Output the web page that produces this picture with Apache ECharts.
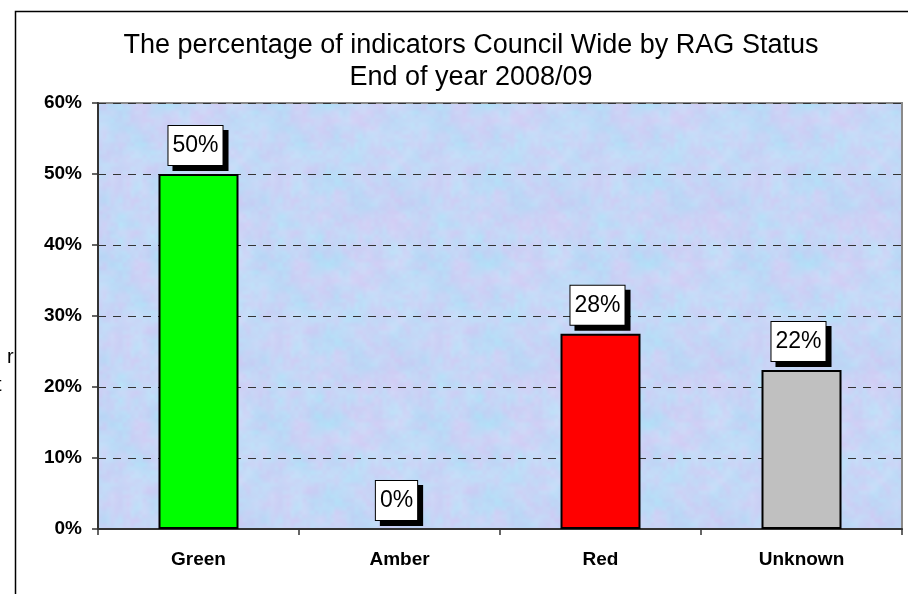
<!DOCTYPE html>
<html><head><meta charset="utf-8">
<script src="https://cdn.jsdelivr.net/npm/echarts@6/dist/echarts.min.js"></script>
<style>html,body{margin:0;padding:0;background:#fff}#c{width:908px;height:594px}</style>
</head><body><div id="c"></div>
<script>
const titleLines = ['The percentage of indicators Council Wide by RAG Status', 'End of year 2008/09'];
const categories = ['Green', 'Amber', 'Red', 'Unknown'];
const values = [50, 0, 27.5, 22.4];
const valueLabels = ['50%', '0%', '28%', '22%'];
const barColors = ['#00ff00', '#ffa500', '#ff0000', '#c0c0c0'];
const yTicks = [0, 10, 20, 30, 40, 50, 60];

// decorative paper-like texture for the plot background (deterministic hash, style only)
function makeTexture() {
  const S = 160, cv = document.createElement('canvas');
  cv.width = S; cv.height = S;
  const ctx = cv.getContext('2d');
  const hash = (x, y) => { const s = Math.sin(x * 12.9898 + y * 78.233) * 43758.5453; return s - Math.floor(s); };
  const smooth = (x, y, c) => {
    const gx = x / c, gy = y / c, x0 = Math.floor(gx), y0 = Math.floor(gy);
    const fx = gx - x0, fy = gy - y0, n = S / c;
    const h = (a, b) => hash(((a % n) + n) % n + c * 7, ((b % n) + n) % n + c * 3);
    const a = h(x0, y0), b = h(x0 + 1, y0), d = h(x0, y0 + 1), e = h(x0 + 1, y0 + 1);
    const ux = fx * fx * (3 - 2 * fx), uy = fy * fy * (3 - 2 * fy);
    return (a * (1 - ux) + b * ux) * (1 - uy) + (d * (1 - ux) + e * ux) * uy;
  };
  const img = ctx.createImageData(S, S);
  for (let y = 0; y < S; y++) for (let x = 0; x < S; x++) {
    const p = smooth(x, y, 20) * 0.6 + smooth(x, y, 8) * 0.4;
    const q = smooth(x + 40, y + 70, 16) * 0.6 + smooth(x, y, 4) * 0.4;
    const k = (y * S + x) * 4;
    img.data[k] = 182 + 36 * p - 12 * q;
    img.data[k + 1] = 208 + 24 * q - 10 * p;
    img.data[k + 2] = 243 + 6 * q;
    img.data[k + 3] = 255;
  }
  ctx.putImageData(img, 0, 0);
  return cv;
}

const chart = echarts.init(document.getElementById('c'), null, {renderer: 'canvas'});
const FONT = 'Liberation Sans, Arial, sans-serif';
chart.setOption({
  backgroundColor: '#fff',
  animation: false,
  title: {
    text: titleLines.join('\n'),
    left: 466, top: 25, textAlign: 'center',
    textStyle: {fontFamily: FONT, fontSize: 27, fontWeight: 'normal', color: '#000', lineHeight: 32}
  },
  grid: {left: 98, right: 6, top: 103, bottom: 65, show: true,
    backgroundColor: {image: makeTexture(), repeat: 'repeat'}, borderColor: '#8a8a8a', borderWidth: 2},
  xAxis: {
    type: 'category', data: categories,
    axisLine: {lineStyle: {color: '#333', width: 2}},
    axisTick: {show: true, length: 6, lineStyle: {color: '#333', width: 1.5}},
    axisLabel: {fontFamily: FONT, fontSize: 19, fontWeight: 'bold', color: '#000', margin: 21}
  },
  yAxis: {
    type: 'value', min: yTicks[0], max: yTicks[yTicks.length - 1], interval: 10,
    axisLine: {show: true, lineStyle: {color: '#333', width: 2}},
    axisTick: {show: true, length: 6, lineStyle: {color: '#333', width: 1.5}},
    axisLabel: {fontFamily: FONT, fontSize: 19, fontWeight: 'bold', color: '#000', margin: 16, formatter: v => v + '%'},
    splitLine: {show: true, lineStyle: {color: '#333', width: 1, type: [8, 7]}}
  },
  series: [{
    type: 'bar', barWidth: 80,
    data: values.map((v, i) => ({value: v, itemStyle: {color: barColors[i], borderWidth: v > 0 ? 2 : 0}})),
    itemStyle: {borderColor: '#000', borderWidth: 2},
    label: {
      show: true, position: 'top', distance: 9,
      formatter: p => valueLabels[p.dataIndex],
      fontFamily: FONT, fontSize: 23, color: '#000', lineHeight: 26,
      backgroundColor: '#fff', borderColor: '#000', borderWidth: 1,
      padding: [7, 4, 6, 4],
      shadowColor: '#000', shadowBlur: 0, shadowOffsetX: 5, shadowOffsetY: 5,
      offset: [-3, 0]
    }
  }],
  graphic: [
    {type: 'rect', shape: {x: 15.5, y: 11.5, width: 1000, height: 1000}, style: {fill: 'none', stroke: '#000', lineWidth: 1.5}, silent: true},
    {type: 'text', left: 7, top: 347, style: {text: 'r', font: '20px ' + FONT, fill: '#000'}},
    {type: 'text', left: -4, top: 375, style: {text: 't', font: '20px ' + FONT, fill: '#000'}}
  ]
});
</script></body></html>
